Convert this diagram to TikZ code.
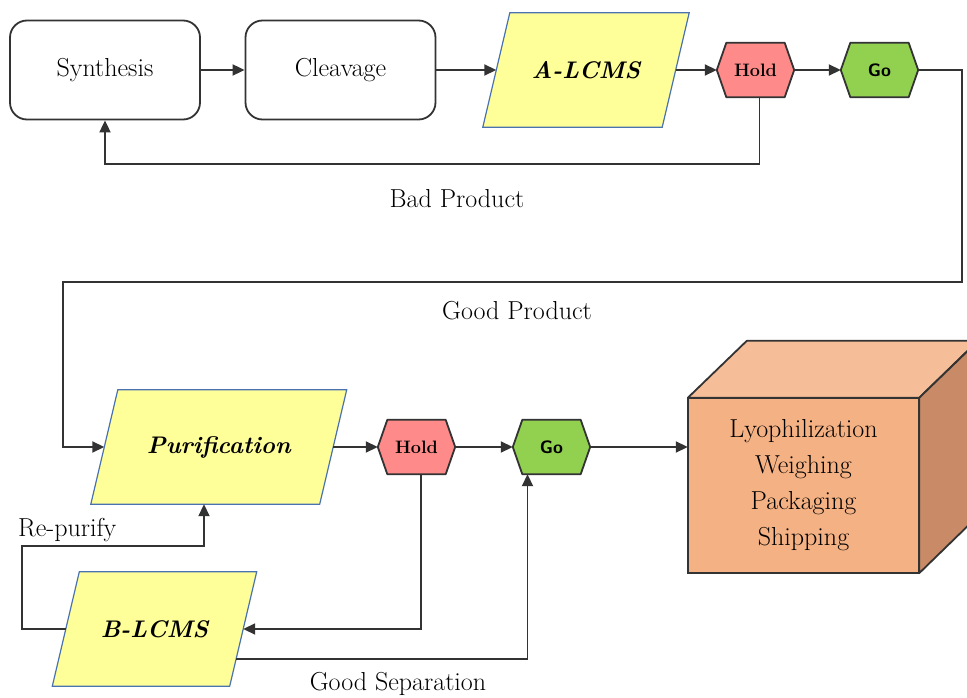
\documentclass[tikz,border=0pt]{standalone}
\usetikzlibrary{arrows.meta,calc,backgrounds}
\definecolor{holdred}{HTML}{FF8A8A}
\definecolor{gogreen}{HTML}{92D050}
\definecolor{pyellow}{HTML}{FFFF99}
\definecolor{pblue}{HTML}{4A72B0}
\definecolor{boxfront}{HTML}{F4B183}
\definecolor{boxtop}{HTML}{F6BE98}
\definecolor{boxside}{HTML}{C88A67}
\definecolor{lineg}{HTML}{333333}
\tikzset{
  x=1pt, y=1pt,
  mainfont/.style={font=\fontsize{26}{36}\selectfont},
  roundbox/.style={draw=lineg, line width=1.8pt, rounded corners=17pt, minimum width=190pt, minimum height=99pt, inner sep=0pt, mainfont},
  paranode/.style={minimum height=114pt, inner sep=0pt, font=\fontsize{24}{28}\selectfont\bfseries\itshape},
  hexnode/.style={minimum width=77pt, minimum height=54pt, inner sep=0pt},
  holdtext/.style={font=\fontsize{18}{20}\selectfont\bfseries},
  gotext/.style={font=\fontsize{18}{20}\selectfont\sffamily\bfseries},
  lbl/.style={mainfont, inner sep=0pt},
  arr/.style={draw=lineg, line width=1.8pt, -{Triangle[length=12pt,width=11pt]}},
}
\begin{document}
\begin{tikzpicture}
\useasboundingbox (0,0) rectangle (967,-698);
\begin{scope}
\clip (0,0) rectangle (967,-698);
% top row
\node[roundbox] (syn) at (105,-70) {Synthesis};
\node[roundbox] (cle) at (340.5,-70) {Cleavage};
\node[paranode, minimum width=179pt] (al) at (586,-70) {A-LCMS};
\node[hexnode, holdtext] (h1) at (755.5,-70) {Hold};
\node[hexnode, gotext] (g1) at (879.5,-70) {Go};
% bottom
\node[paranode, minimum width=228.5pt] (pu) at (218.75,-447) {Purification};
\node[hexnode, holdtext] (h2) at (416.5,-447) {Hold};
\node[hexnode, gotext] (g2) at (551.5,-447) {Go};
\node[paranode, minimum width=177pt] (bl) at (154.5,-629) {B-LCMS};
\node[minimum width=231pt, minimum height=175pt, inner sep=0pt, align=center, mainfont] (lyo) at (803.5,-485.5) {Lyophilization\\Weighing\\Packaging\\Shipping};
% shapes behind nodes
\begin{scope}[on background layer]
\foreach \n in {al,pu,bl}{
  \draw[fill=pyellow, draw=pblue, line width=1.2pt]
    ($(\n.south west)+(-13.5,0)$) -- ($(\n.south east)+(-13.5,0)$) --
    ($(\n.north east)+(13.5,0)$) -- ($(\n.north west)+(13.5,0)$) -- cycle;
}
\foreach \n/\c in {h1/holdred,g1/gogreen,h2/holdred,g2/gogreen}{
  \draw[fill=\c, draw=lineg, line width=1.8pt, line join=round]
    (\n.west) -- ($(\n.north west)+(9.5,0)$) -- ($(\n.north east)+(-9.5,0)$) --
    (\n.east) -- ($(\n.south east)+(-9.5,0)$) -- ($(\n.south west)+(9.5,0)$) -- cycle;
}
\draw[fill=boxtop, draw=lineg, line width=1.8pt, line join=round]
  (lyo.north west) -- ++(59,57) -- ++(231,0) -- (lyo.north east) -- cycle;
\draw[fill=boxside, draw=lineg, line width=1.8pt, line join=round]
  (lyo.north east) -- ++(59,57) -- ++(0,-175) -- (lyo.south east) -- cycle;
\draw[fill=boxfront, draw=lineg, line width=1.8pt]
  (lyo.south west) rectangle (lyo.north east);
\end{scope}
% connectors
\draw[arr] (syn) -- (cle);
\draw[arr] (cle) -- (al.west);
\draw[arr] (al.east) -- (h1.west);
\draw[arr] (h1.east) -- (g1.west);
\coordinate (bpc) at (400,-164);
\draw[arr] ([xshift=4pt]h1.south) |- (bpc) -| (syn.south);
\coordinate (gpR) at (962,-282);
\coordinate (gpL) at (63,-282);
\draw[arr] (g1.east) -| (gpR) -- (gpL) |- (pu.west);
\draw[arr] (pu.east) -- (h2.west);
\draw[arr] (h2.east) -- (g2.west);
\draw[arr] (g2.east) -- (g2.east -| lyo.west);
\draw[arr] ([xshift=4.5pt]h2.south) |- (bl.east);
\coordinate (rpL) at (22,-546);
\coordinate (rpR) at (204,-546);
\draw[arr] (bl.west) -| (rpL) -- (rpR) -- (rpR |- pu.south);
\coordinate (gs1) at ($(bl.east)+(-7,-30)$);
\draw[arr] (gs1) -| ([xshift=-24pt]g2.south);
% labels
\node[lbl] (lbad) at (457,-199) {Bad Product};
\node[lbl] (lgood) at (517,-311) {Good Product};
\node[lbl, anchor=west] (lrep) at (18,-530) {Re-purify};
\node[lbl] (lsep) at (398,-684) {Good Separation};
\end{scope}
\end{tikzpicture}
\end{document}
